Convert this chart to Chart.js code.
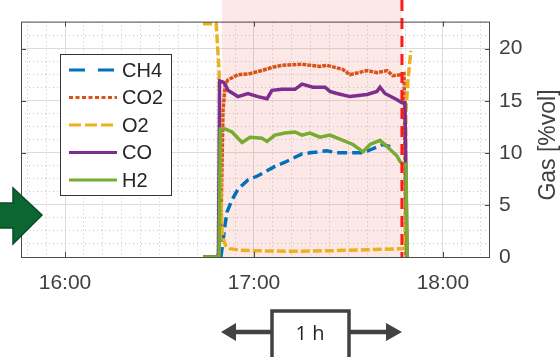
<!DOCTYPE html>
<html>
<head>
<meta charset="utf-8">
<script src="https://cdn.jsdelivr.net/npm/chart.js@4.4.1/dist/chart.umd.min.js"></script>
<style>
  html, body { margin: 0; padding: 0; background: #fff; }
</style>
</head>
<body>
<canvas id="gasChart" width="560" height="357"></canvas>
<script>
// axis ticks (x in hours of day)
const xTickHours = [16, 17, 18];
const xTickLabels = ['16:00', '17:00', '18:00'];
const yTickValues = [0, 5, 10, 15, 20];

// gas composition, % vol
const ch4Hours = [16.825, 16.836, 16.847, 16.857, 16.884, 16.915, 16.968, 17.021, 17.111, 17.164, 17.254, 17.296, 17.386, 17.439, 17.577, 17.683, 17.735];
const ch4Values = [0, 1.5, 3.1, 4.3, 5.5, 6.5, 7.4, 7.8, 8.7, 9.1, 9.9, 10.0, 10.2, 10.0, 10.0, 10.8, 10.5];

const co2Hours = [16.730, 16.810, 16.825, 16.836, 16.847, 16.862, 16.915, 16.979, 17.042, 17.095, 17.148, 17.254, 17.349, 17.386, 17.471, 17.508, 17.598, 17.651, 17.704, 17.735, 17.772, 17.794, 17.804];
const co2Values = [0, 0, 3, 14, 16.5, 17.0, 17.5, 17.6, 17.9, 18.2, 18.4, 18.5, 18.3, 18.4, 18.0, 17.5, 17.9, 17.7, 17.9, 17.4, 17.5, 17.6, 0];

const o2Hours = [16.730, 16.800, 16.815, 16.825, 16.831, 16.840, 16.850, 16.873, 16.926, 17.000, 17.200, 17.400, 17.600, 17.783, 17.799, 17.804, 17.815, 17.830];
const o2Values = [22.4, 22.4, 18, 6, 2.5, 1.6, 1.1, 0.8, 0.65, 0.6, 0.55, 0.6, 0.7, 0.8, 0.9, 14, 17, 19.8];

const coHours = [16.730, 16.812, 16.818, 16.836, 16.847, 16.862, 16.915, 16.968, 17.021, 17.069, 17.095, 17.148, 17.217, 17.254, 17.312, 17.376, 17.402, 17.439, 17.508, 17.598, 17.651, 17.667, 17.693, 17.757, 17.783, 17.799, 17.810];
const coValues = [0, 0, 16.9, 16.8, 16.6, 16.0, 15.4, 15.7, 15.4, 15.2, 16.0, 16.1, 16.1, 16.6, 16.3, 16.3, 15.9, 15.7, 15.4, 15.6, 15.9, 16.3, 15.7, 15.1, 14.8, 14.8, 0];

const h2Hours = [16.730, 16.815, 16.822, 16.847, 16.884, 16.937, 16.979, 17.042, 17.069, 17.111, 17.164, 17.217, 17.254, 17.296, 17.349, 17.402, 17.471, 17.524, 17.577, 17.614, 17.667, 17.704, 17.757, 17.772, 17.788, 17.805, 17.810];
const h2Values = [0, 0, 12.3, 12.3, 12.0, 11.0, 11.5, 11.4, 11.1, 11.7, 11.9, 12.0, 11.7, 11.9, 11.5, 11.7, 11.2, 10.8, 10.1, 10.8, 11.2, 10.6, 9.7, 9.2, 8.9, 8.9, 0];

// shaded run period and end marker (hours)
const shadeStartHour = 16.831;
const shadeEndHour = 17.783;

const FONT = "'Liberation Sans', Arial, sans-serif";
const TEXT = '#404040';

const seriesLabels = ['CH4', 'CO2', 'O2', 'CO', 'H2'];
const seriesColors = ['#0072BD', '#D95319', '#EDB120', '#7E2F8E', '#77AC30'];
const seriesDash = [[10, 5], [4, 1], [9, 3], [], []];
const legendDash = [[16, 13], [4, 2.5], [12, 4], [], []];

const toPoints = (xs, ys) => xs.map((x, i) => ({ x, y: ys[i] }));
const seriesPoints = [
  toPoints(ch4Hours, ch4Values),
  toPoints(co2Hours, co2Values),
  toPoints(o2Hours, o2Values),
  toPoints(coHours, coValues),
  toPoints(h2Hours, h2Values),
];

const minorX = [];
for (let v = 15.8; v < 18.25; v += 0.1) {
  const r = Math.round(v * 10) / 10;
  if (Math.abs(r - Math.round(r)) > 0.01) minorX.push(r);
}
const minorY = [];
for (let v = 1.25; v < 22.6; v += 1.25) {
  if (v % 5 !== 0) minorY.push(v);
}

const decor = {
  id: 'decor',
  beforeDatasetsDraw(chart) {
    const { ctx, chartArea, scales } = chart;
    const x0 = scales.x.getPixelForValue(shadeStartHour);
    const x1 = scales.x.getPixelForValue(shadeEndHour);
    ctx.save();
    ctx.fillStyle = 'rgba(235, 80, 70, 0.13)';
    ctx.fillRect(x0, 0, x1 - x0, chartArea.bottom);
    ctx.restore();
  },
  afterDatasetsDraw(chart) {
    const { ctx, chartArea: a, scales } = chart;
    ctx.save();

    // end-of-run marker
    const xr = scales.x.getPixelForValue(shadeEndHour);
    ctx.strokeStyle = '#ff1a1a';
    ctx.lineWidth = 3;
    ctx.setLineDash([11, 7]);
    ctx.beginPath();
    ctx.moveTo(xr, 0);
    ctx.lineTo(xr, a.bottom);
    ctx.stroke();
    ctx.setLineDash([]);

    // axes box and inward ticks
    ctx.strokeStyle = '#4a4a4a';
    ctx.lineWidth = 1;
    ctx.strokeRect(a.left + 0.5, a.top + 0.5, a.right - a.left - 1, a.bottom - a.top);
    ctx.beginPath();
    xTickHours.forEach(h => {
      const px = Math.round(scales.x.getPixelForValue(h)) + 0.5;
      ctx.moveTo(px, a.bottom); ctx.lineTo(px, a.bottom - 5);
      ctx.moveTo(px, a.top); ctx.lineTo(px, a.top + 5);
    });
    yTickValues.forEach(v => {
      const py = Math.round(scales.y.getPixelForValue(v)) + 0.5;
      ctx.moveTo(a.left, py); ctx.lineTo(a.left + 5, py);
      ctx.moveTo(a.right, py); ctx.lineTo(a.right - 5, py);
    });
    ctx.stroke();

    // legend
    const lx = 60, ly = 54, lw = 111, lh = 141;
    ctx.fillStyle = '#fff';
    ctx.fillRect(lx, ly, lw, lh);
    ctx.strokeStyle = '#333';
    ctx.strokeRect(lx + 0.5, ly + 0.5, lw, lh);
    ctx.font = '20px ' + FONT;
    ctx.textBaseline = 'middle';
    ctx.textAlign = 'left';
    seriesLabels.forEach((label, i) => {
      const cy = 70 + i * 27.5;
      ctx.strokeStyle = seriesColors[i];
      ctx.lineWidth = 3;
      ctx.setLineDash(legendDash[i]);
      ctx.beginPath();
      ctx.moveTo(69, cy); ctx.lineTo(117, cy);
      ctx.stroke();
      ctx.setLineDash([]);
      ctx.fillStyle = '#262626';
      ctx.fillText(label, 122, cy + 1);
    });

    // right axis title
    ctx.save();
    ctx.translate(549, 145);
    ctx.rotate(-Math.PI / 2);
    ctx.textAlign = 'center';
    ctx.fillStyle = TEXT;
    ctx.font = '23px ' + FONT;
    ctx.fillText('Gas [%vol]', 0, 0);
    ctx.restore();

    // green arrow on the left
    ctx.fillStyle = '#0b6632';
    ctx.strokeStyle = '#084d26';
    ctx.lineWidth = 1.5;
    ctx.beginPath();
    ctx.moveTo(-2, 203); ctx.lineTo(13, 203); ctx.lineTo(13, 188);
    ctx.lineTo(42, 215); ctx.lineTo(13, 244); ctx.lineTo(13, 228);
    ctx.lineTo(-2, 228); ctx.closePath();
    ctx.fill(); ctx.stroke();

    // "1 h" scale marker
    ctx.strokeStyle = '#424242';
    ctx.fillStyle = '#424242';
    ctx.lineWidth = 3.5;
    ctx.beginPath();
    ctx.moveTo(272, 360); ctx.lineTo(272, 311); ctx.lineTo(349, 311); ctx.lineTo(349, 360);
    ctx.stroke();
    ctx.lineWidth = 4.5;
    ctx.beginPath();
    ctx.moveTo(272, 332); ctx.lineTo(232, 332);
    ctx.moveTo(349, 332); ctx.lineTo(390, 332);
    ctx.stroke();
    ctx.beginPath();
    ctx.moveTo(221, 332); ctx.lineTo(236, 323); ctx.lineTo(236, 341); ctx.closePath();
    ctx.moveTo(402, 332); ctx.lineTo(386, 323); ctx.lineTo(386, 341); ctx.closePath();
    ctx.fill();
    ctx.fillStyle = '#222';
    ctx.font = "20px 'Open Sans', sans-serif";
    ctx.textAlign = 'center';
    ctx.textBaseline = 'middle';
    ctx.fillText('1 h', 310, 334);

    ctx.restore();
  },
};

const canvas = document.getElementById('gasChart');
new Chart(canvas.getContext('2d'), {
  type: 'line',
  data: {
    datasets: seriesLabels.map((label, i) => ({
      label,
      data: seriesPoints[i],
      borderColor: seriesColors[i],
      borderWidth: 3.5,
      borderDash: seriesDash[i],
      pointRadius: 0,
      tension: 0,
      fill: false,
      order: seriesLabels.length - i,
    })),
  },
  options: {
    responsive: false,
    animation: false,
    devicePixelRatio: 1,
    layout: { padding: { left: 21, top: 12, right: 0, bottom: 0 } },
    plugins: { legend: { display: false }, tooltip: { enabled: false } },
    scales: {
      x: {
        type: 'linear', position: 'bottom', min: 15.767, max: 18.249,
        afterBuildTicks: s => { s.ticks = xTickHours.map(value => ({ value })); },
        afterFit: s => { s.height = 100; },
        grid: { color: '#dcdcdc', drawTicks: false },
        border: { display: false },
        ticks: {
          padding: 14, color: TEXT, maxRotation: 0,
          font: { family: FONT, size: 21 },
          callback: v => xTickLabels[xTickHours.indexOf(v)] ?? '',
        },
      },
      xMinor: {
        type: 'linear', position: 'bottom', min: 15.767, max: 18.249,
        afterBuildTicks: s => { s.ticks = minorX.map(value => ({ value })); },
        afterFit: s => { s.height = 0; },
        grid: { color: '#c8c8c8', drawTicks: false },
        border: { display: false, dash: [1, 3] },
        ticks: { display: false },
      },
      y: {
        type: 'linear', position: 'right', min: 0, max: 22.6,
        afterBuildTicks: s => { s.ticks = yTickValues.map(value => ({ value })); },
        afterFit: s => { s.width = 70; },
        grid: { color: '#dcdcdc', drawTicks: false },
        border: { display: false },
        ticks: { padding: 9, color: TEXT, font: { family: FONT, size: 21 } },
      },
      yMinor: {
        type: 'linear', position: 'right', min: 0, max: 22.6,
        afterBuildTicks: s => { s.ticks = minorY.map(value => ({ value })); },
        afterFit: s => { s.width = 0; },
        grid: { color: '#c8c8c8', drawTicks: false },
        border: { display: false, dash: [1, 3] },
        ticks: { display: false },
      },
    },
  },
  plugins: [decor],
});
</script>
</body>
</html>
